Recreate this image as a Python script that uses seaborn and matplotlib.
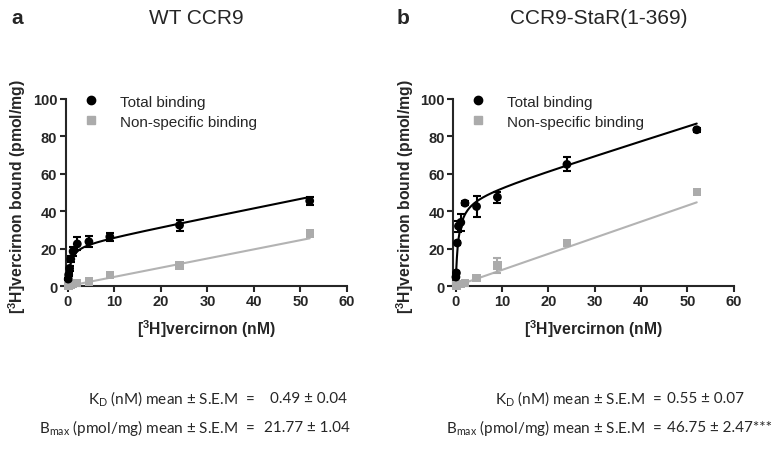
import numpy as np
import matplotlib
matplotlib.use('Agg')
import matplotlib.pyplot as plt
import pandas as pd
import seaborn as sns
from matplotlib.lines import Line2D

# [3H]vercirnon concentrations (nM)
conc = [0.05, 0.15, 0.35, 0.6, 1.1, 2.0, 4.5, 9.0, 24.0, 52.0]

# panel a - WT CCR9
wt_total = [3.7, 6.0, 9.4, 14.4, 18.5, 22.5, 23.7, 26.3, 32.5, 45.5]
wt_total_err = [0.5, 0.8, 1.2, 1.5, 2.5, 3.5, 3.0, 2.0, 3.0, 2.0]
wt_ns = [0.0, 0.2, 0.4, 0.6, 1.0, 1.5, 2.5, 6.0, 11.0, 28.0]
wt_ns_err = [0.2, 0.2, 0.2, 0.3, 0.3, 0.4, 0.5, 0.6, 0.6, 0.8]

# panel b - CCR9-StaR(1-369)
star_total = [4.8, 7.0, 23.0, 32.0, 34.0, 44.3, 42.5, 47.5, 65.0, 83.5]
star_total_err = [0.5, 0.8, 1.0, 3.0, 4.5, 1.0, 5.5, 3.0, 3.8, 1.0]
star_ns = [0.0, 0.3, 0.5, 1.0, 1.2, 1.5, 4.3, 11.0, 23.0, 50.2]
star_ns_err = [0.2, 0.2, 0.3, 0.3, 0.3, 0.5, 1.0, 4.0, 1.0, 1.0]

# fitted parameters
kd = [0.49, 0.55]
bmax = [21.77, 46.75]
total_slope = [0.50, 0.78]
ns_slope = [0.49, 0.86]

titles = ['WT CCR9', 'CCR9-StaR(1-369)']
letters = ['a', 'b']
kd_text = ['0.49 ± 0.04', '0.55 ± 0.07']
bmax_text = ['21.77 ± 1.04', '46.75 ± 2.47***']

sns.set_style('ticks')
plt.rcParams['font.family'] = ['Liberation Sans', 'DejaVu Sans']
plt.rcParams['mathtext.fontset'] = 'custom'
plt.rcParams['mathtext.rm'] = 'Lato'
plt.rcParams['mathtext.bf'] = 'Liberation Sans:bold'

grey = '#ababab'

fig = plt.figure(figsize=(7.79, 4.52), dpi=100)
ax1 = fig.add_axes([0.0843, 0.365, 0.361, 0.414])
ax2 = fig.add_axes([0.582, 0.365, 0.360, 0.414])

panels = [(ax1, wt_total, wt_total_err, wt_ns, wt_ns_err),
          (ax2, star_total, star_total_err, star_ns, star_ns_err)]

for i, (ax, tot, tot_err, ns, ns_err) in enumerate(panels):
    df = pd.DataFrame({'conc': conc, 'total': tot, 'ns': ns})
    xfit = np.linspace(0, max(conc), 400)
    fit = pd.DataFrame({'x': xfit,
                        'total': bmax[i] * xfit / (kd[i] + xfit) + total_slope[i] * xfit,
                        'ns': ns_slope[i] * xfit})

    sns.lineplot(data=fit, x='x', y='ns', color='#b3b3b3', lw=1.5, ax=ax)
    sns.lineplot(data=fit, x='x', y='total', color='black', lw=1.5, ax=ax)

    ax.errorbar(conc, ns, yerr=ns_err, fmt='none', ecolor=grey,
                elinewidth=1.5, capsize=3, capthick=1.5, clip_on=False)
    ax.errorbar(conc, tot, yerr=tot_err, fmt='none', ecolor='black',
                elinewidth=1.5, capsize=3, capthick=1.5, clip_on=False)
    sns.scatterplot(data=df, x='conc', y='ns', marker='s', color=grey, s=36,
                    edgecolor='none', ax=ax, clip_on=False, zorder=5)
    sns.scatterplot(data=df, x='conc', y='total', marker='o', color='black', s=40,
                    edgecolor='none', ax=ax, clip_on=False, zorder=6)

    ax.set_xlim(-0.5, 60)
    ax.set_ylim(0, 100)
    ax.set_xticks(range(0, 61, 10))
    ax.set_yticks(range(0, 101, 20))
    for side in ['left', 'bottom']:
        ax.spines[side].set_linewidth(1.5)
    ax.tick_params(width=1.5, length=4, labelsize=10.5, pad=2)
    for lab in ax.get_xticklabels() + ax.get_yticklabels():
        lab.set_fontweight('bold')
    ax.set_xlabel(r'[$\mathbf{^3}$H]vercirnon (nM)', fontsize=11.3, fontweight='bold')
    ax.set_ylabel(r'[$\mathbf{^3}$H]vercirnon bound (pmol/mg)', fontsize=11.3, fontweight='bold')
    ax.xaxis.set_label_coords(0.5, -0.165)
    ax.yaxis.set_label_coords(-0.135, 0.48)

    handles = [Line2D([], [], marker='o', ls='none', color='black', markersize=6),
               Line2D([], [], marker='s', ls='none', color=grey, markersize=6)]
    ax.legend(handles, ['Total binding', 'Non-specific binding'], loc='upper left',
              bbox_to_anchor=(0.035, 1.055), frameon=False, fontsize=11,
              handlelength=1.2, handletextpad=1.3, labelspacing=0.4, borderaxespad=0)
    sns.despine(ax=ax)

# titles and panel letters
fig.text(196 / 779, 1 - 18 / 452, titles[0], ha='center', va='center', fontsize=15)
fig.text(599 / 779, 1 - 18 / 452, titles[1], ha='center', va='center', fontsize=15)
fig.text(11 / 779, 1 - 18 / 452, letters[0], ha='left', va='center', fontsize=15, fontweight='bold')
fig.text(397 / 779, 1 - 18 / 452, letters[1], ha='left', va='center', fontsize=15, fontweight='bold')

# fit summary text
eq_x = [255, 662]
val_x = [[270, 264], [667, 667]]
rows_y = [399, 428]
for i in range(2):
    fig.text(eq_x[i] / 779, 1 - rows_y[0] / 452, r'K$_\mathregular{D}$ (nM) mean ± S.E.M  =',
             ha='right', va='center', fontsize=11, family='Lato')
    fig.text(val_x[i][0] / 779, 1 - rows_y[0] / 452, kd_text[i],
             ha='left', va='center', fontsize=11, family='Lato')
    fig.text(eq_x[i] / 779, 1 - rows_y[1] / 452, r'B$_\mathregular{max}$ (pmol/mg) mean ± S.E.M  =',
             ha='right', va='center', fontsize=11, family='Lato')
    fig.text(val_x[i][1] / 779, 1 - rows_y[1] / 452, bmax_text[i],
             ha='left', va='center', fontsize=11, family='Lato')

fig.savefig('out.png', dpi=100)
